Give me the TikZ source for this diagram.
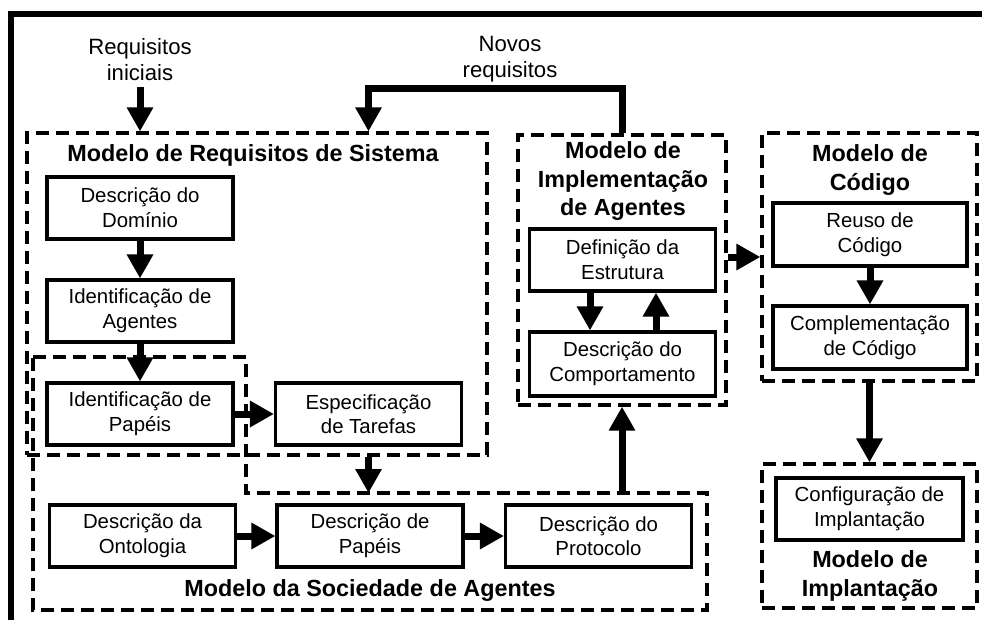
\documentclass[tikz,border=0pt]{standalone}
\usepackage{fontspec}
\setmainfont{Liberation Sans}
\usetikzlibrary{arrows.meta}

\tikzset{
    caixa/.style={draw, line width=0.062cm, minimum width=3.72cm, minimum height=1.24cm,
        inner sep=0pt, align=center, font=\fontsize{11.6}{14}\selectfont},
    modelo/.style={draw, line width=0.065cm, dash pattern=on 0.26cm off 0.14cm, inner sep=0pt},
    titulo/.style={align=center, font=\fontsize{13.3}{16.2}\bfseries\selectfont},
    rotulo/.style={align=center, font=\fontsize{12.6}{14.8}\selectfont},
    seta/.style={line width=0.14cm, -{Triangle[width=0.5cm, length=0.48cm]}}
}

\begin{document}
\begin{tikzpicture}[x=0.02cm, y=-0.02cm]
    \useasboundingbox (0,0) rectangle (982,620);
    \draw [line width=0.12cm] (11,620) -- (11,14) -- (982,14);

    % modelos
    \node [modelo, minimum width=9.2cm, minimum height=6.44cm] (req) at (257,294) {};
    \node [modelo, minimum width=4.16cm, minimum height=5.4cm] (impl) at (622,270) {};
    \node [modelo, minimum width=4.3cm, minimum height=4.96cm] (cod) at (869.5,257) {};
    \node [modelo, minimum width=4.3cm, minimum height=2.88cm] (dep) at (869.5,536) {};
    \coordinate (s1) at (33,357);
    \coordinate (s2) at (246,357);
    \coordinate (s3) at (246,493);
    \coordinate (s4) at (707,493);
    \coordinate (s5) at (707,610);
    \coordinate (s6) at (33,610);
    \draw [modelo] (s1) -- (s2) -- (s3) -- (s4) -- (s5) -- (s6) -- cycle;

    \node [titulo] (treq) at (253,155) {Modelo de Requisitos de Sistema};
    \node [titulo] (timpl) at (623,181) {Modelo de\\Implementação\\de Agentes};
    \node [titulo] (tcod) at (870,170) {Modelo de\\Código};
    \node [titulo] (tsoc) at (370,590) {Modelo da Sociedade de Agentes};
    \node [titulo] (tdep) at (870,576) {Modelo de\\Implantação};

    \node [rotulo] (ini) at (140,60) {Requisitos\\iniciais};
    \node [rotulo] (novos) at (510,59) {Novos\\requisitos};

    % atividades
    \node [caixa] (dom) at (140,208) {Descrição do\\Domínio};
    \node [caixa] (age) at (140,311) {Identificação de\\Agentes};
    \node [caixa] (pap) at (140,414) {Identificação de\\Papéis};
    \node [caixa] (tar) at (368.5,414) {Especificação\\de Tarefas};
    \node [caixa] (ont) at (142.5,536) {Descrição da\\Ontologia};
    \node [caixa] (dpa) at (370,536) {Descrição de\\Papéis};
    \node [caixa] (pro) at (598.5,536) {Descrição do\\Protocolo};
    \node [caixa] (est) at (622.5,260) {Definição da\\Estrutura};
    \node [caixa, minimum height=1.28cm] (com) at (622.5,364) {Descrição do\\Comportamento};
    \node [caixa, minimum width=3.88cm, minimum height=1.26cm] (reu) at (870,234.5) {Reuso de\\Código};
    \node [caixa, minimum width=3.88cm, minimum height=1.26cm] (cpl) at (870,337.5) {Complementação\\de Código};
    \node [caixa, minimum width=3.74cm] (cfg) at (869.5,509) {Configuração de\\Implantação};

    \draw [seta] (ini) -- (ini |- req.north);
    \draw [seta] (impl.north) -- ++(0,-45) -| (tar |- req.north);
    \draw [seta] (dom) -- (age);
    \draw [seta] (age) -- (pap);
    \draw [seta] (pap) -- (tar);
    \draw [seta] (tar |- req.south) -- (tar |- s4);
    \draw [seta] (ont) -- (dpa);
    \draw [seta] (dpa) -- (pro);
    \draw [seta] (impl.south |- s4) -- (impl.south);
    \draw [seta] ([xshift=-0.65cm]est.south) -- ([xshift=-0.65cm]com.north);
    \draw [seta] ([xshift=0.67cm]com.north) -- ([xshift=0.67cm]est.south);
    \draw [seta] (impl.east |- cod.west) -- (cod.west);
    \draw [seta] (reu) -- (cpl);
    \draw [seta] (cod) -- (dep);
\end{tikzpicture}
\end{document}
